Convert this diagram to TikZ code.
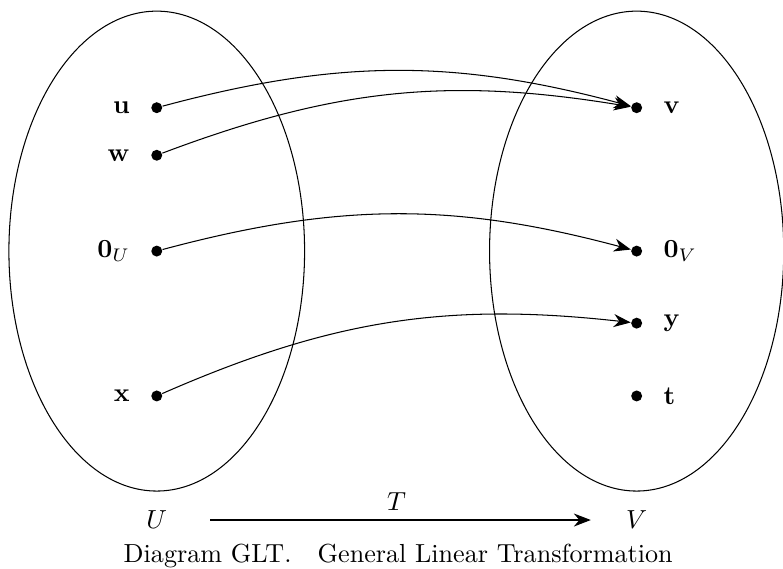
\documentclass[tikz,border=0pt]{standalone}
\usepackage{amsmath, amssymb}
\usetikzlibrary{arrows.meta, positioning}

\tikzset{>={Stealth[length=6.5pt, width=5pt]}}

\begin{document}
\begin{tikzpicture}[elem/.style={circle, fill, inner sep=0pt, minimum size=4.2pt}]
        \useasboundingbox (-2.11,-4.27) rectangle (8.43,3.38);
        % the two spaces
        \draw (0,0) ellipse (1.99 and 3.23);
        \draw (6.46,0) ellipse (1.98 and 3.23);
        % elements of U
        \node[elem] (u) at (0,1.93) {};
        \node[elem] (w) at (0,1.29) {};
        \node[elem] (zeroU) at (0,0) {};
        \node[elem] (x) at (0,-1.95) {};
        \node[left=4.5pt of u] (uLabel) {$\mathbf{u}$};
        \node[left=4.5pt of w] (wLabel) {$\mathbf{w}$};
        \node[left=4.5pt of zeroU] (zeroULabel) {$\mathbf{0}_U$};
        \node[left=4.5pt of x] (xLabel) {$\mathbf{x}$};
        % elements of V
        \node[elem] (v) at (6.46,1.93) {};
        \node[elem] (zeroV) at (6.46,0) {};
        \node[elem] (y) at (6.46,-0.97) {};
        \node[elem] (t) at (6.46,-1.95) {};
        \node[right=4.5pt of v] (vLabel) {$\mathbf{v}$};
        \node[right=4.5pt of zeroV] (zeroVLabel) {$\mathbf{0}_V$};
        \node[right=4.5pt of y] (yLabel) {$\mathbf{y}$};
        \node[right=4.5pt of t] (tLabel) {$\mathbf{t}$};
        % the map
        \draw[->] (u) to[bend left=15] (v);
        \draw[->] (w) to[bend left=15] (v);
        \draw[->] (zeroU) to[bend left=15] (zeroV);
        \draw[->] (x) to[bend left=15] (y);
        \node (U) at (0,-3.62) {$U$};
        \node (V) at (6.46,-3.62) {$V$};
        \draw[->, shorten <=13pt, shorten >=10pt] (U) -- (V) node[midway, above] {$T$};
        \node[anchor=base] (Caption) at (3.25,-4.19) {Diagram GLT.\quad General Linear Transformation};
\end{tikzpicture}
\end{document}
